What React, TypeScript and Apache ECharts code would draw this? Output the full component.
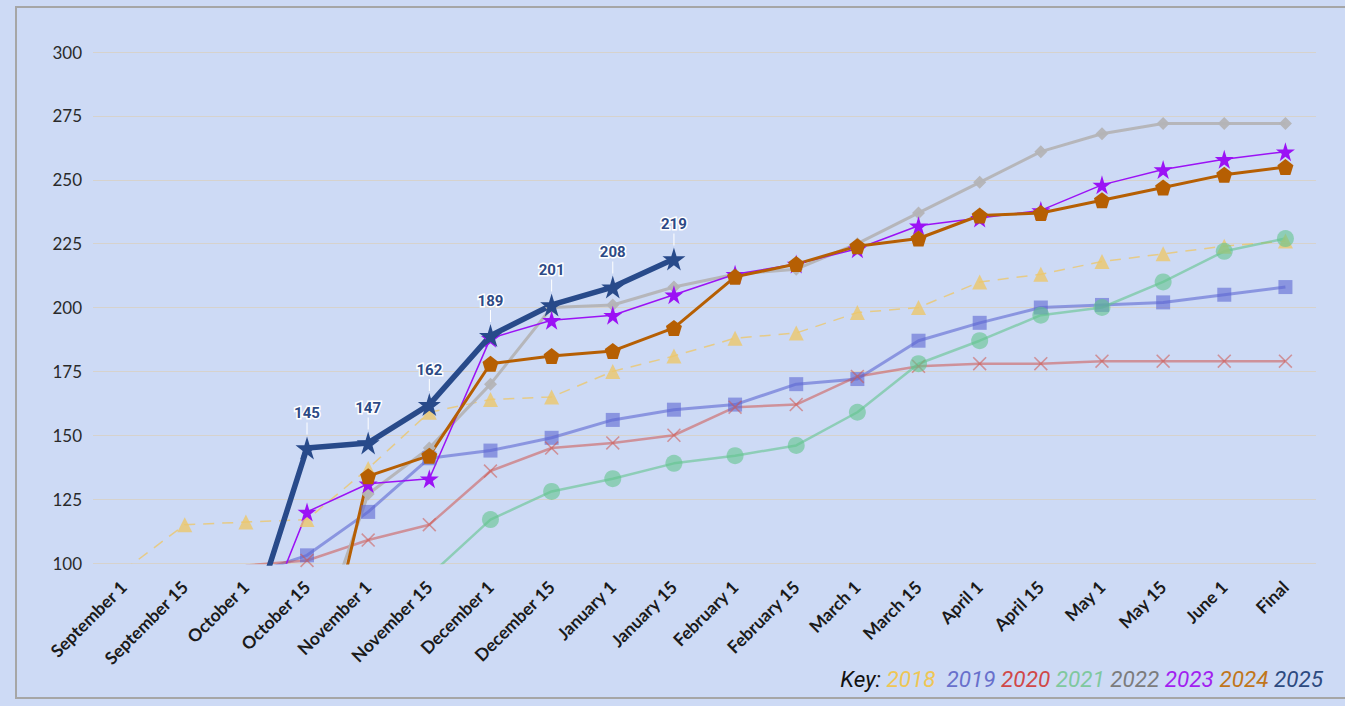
import React, { useEffect, useRef } from "react";
import * as echarts from "echarts";

const categories = [
  "September 1", "September 15", "October 1", "October 15", "November 1",
  "November 15", "December 1", "December 15", "January 1", "January 15",
  "February 1", "February 15", "March 1", "March 15", "April 1",
  "April 15", "May 1", "May 15", "June 1", "Final",
];

const y2018 = [97, 115, 116, 117, 137, 159, 164, 165, 175, 181, 188, 190, 198, 200, 210, 213, 218, 221, 224, 226];
const y2019 = [null, null, 95, 103, 120, 141, 144, 149, 156, 160, 162, 170, 172, 187, 194, 200, 201, 202, 205, 208];
const y2020 = [null, null, 99, 101, 109, 115, 136, 145, 147, 150, 161, 162, 173, 177, 178, 178, 179, 179, 179, 179];
const y2021 = [null, null, null, null, null, 95, 117, 128, 133, 139, 142, 146, 159, 178, 187, 197, 200, 210, 222, 227];
const y2022 = [null, null, null, 58, 127, 145, 170, 200, 201, 208, 213, 215, 225, 237, 249, 261, 268, 272, 272, 272];
const y2023 = [null, null, 60, 120, 131, 133, 188, 195, 197, 205, 213, 217, 223, 232, 235, 238, 248, 254, 258, 261];
const y2024 = [null, null, null, 31, 134, 142, 178, 181, 183, 192, 212, 217, 224, 227, 236, 237, 242, 247, 252, 255];
const y2025 = [null, null, 70, 145, 147, 162, 189, 201, 208, 219, null, null, null, null, null, null, null, null, null, null];

const yTicks = { min: 100, max: 300, interval: 25 };
const years = ["2018", "2019", "2020", "2021", "2022", "2023", "2024", "2025"];
const keyColors = ["#efc655", "#6870cc", "#d04848", "#7fc89e", "#7c7c7c", "#a21ff0", "#c0761c", "#2d4a80"];

const STAR = "path://M50,0 L61,35 L98,35 L68,57 L79,91 L50,70 L21,91 L32,57 L2,35 L39,35 Z";
const PENTAGON = "path://M50,0 L100,37 L81,96 L19,96 L0,37 Z";
const CROSS = "path://M0,8 L8,0 L50,42 L92,0 L100,8 L58,50 L100,92 L92,100 L50,58 L8,100 L0,92 L42,50 Z";

export default function App() {
  const ref = useRef<HTMLDivElement>(null);
  useEffect(() => {
    if (!ref.current) return;
    const chart = echarts.init(ref.current, null, { renderer: "svg" });
    const mk = (name: string, data: any[], color: string, symbol: string, size: number, width: number, opacity: number, extra: any = {}) => ({
      name,
      type: "line",
      data,
      symbol,
      symbolSize: size,
      showAllSymbol: true,
      connectNulls: false,
      clip: true,
      itemStyle: { color, opacity },
      lineStyle: { color, width, opacity },
      emphasis: { disabled: true },
      ...extra,
    });
    const richKey: any = {
      k: { color: "#111", fontStyle: "italic", fontWeight: "normal", fontSize: 22.5, fontFamily: "Roboto" },
    };
    years.forEach((y, i) => {
      richKey["c" + i] = { color: keyColors[i], fontStyle: "italic", fontWeight: "normal", fontSize: 22.5, fontFamily: "Roboto" };
    });
    const keyText = "{k|Key:} " + years.map((y, i) => `{c${i}|${y}}`).join(" ").replace("{c0|2018} ", "{c0|2018}  ");
    chart.setOption({
      animation: false,
      backgroundColor: "#cddaf5",
      title: {
        text: keyText,
        right: 17,
        top: 662,
        textStyle: { fontWeight: "normal", fontSize: 22.5, fontFamily: "Roboto", fontStyle: "italic", rich: richKey },
      },
      graphic: [
        {
          type: "rect",
          shape: { x: 16, y: 7, width: 1345, height: 691 },
          style: { fill: "none", stroke: "#a6a6a6", lineWidth: 2 },
          silent: true,
          z: -1,
        },
      ],
      grid: { left: 93, right: 29, top: 52, bottom: 143 },
      xAxis: {
        type: "category",
        data: categories,
        boundaryGap: true,
        axisLine: { show: false },
        axisTick: { show: false },
        axisLabel: {
          rotate: 45,
          interval: 0,
          margin: 21,
          fontFamily: "Lato",
          fontWeight: "bold",
          fontSize: 17.5,
          color: "#1a1a1a",
        },
      },
      yAxis: {
        type: "value",
        min: yTicks.min,
        max: yTicks.max,
        interval: yTicks.interval,
        axisLine: { show: false },
        axisTick: { show: false },
        splitLine: { lineStyle: { color: "#d6d2cc", width: 1 } },
        axisLabel: { fontFamily: "Lato", fontSize: 17, color: "#2a2a2a", margin: 11 },
      },
      series: [
        mk("2018", y2018, "#ecc76c", "triangle", 15, 1.5, 0.8, { lineStyle: { color: "#ecc76c", width: 1.5, type: [11, 8], opacity: 0.8 } }),
        mk("2019", y2019, "#5e68d2", "rect", 14, 3, 0.6),
        mk("2020", y2020, "#d0564e", CROSS, 14, 2.5, 0.55),
        mk("2021", y2021, "#62c48e", "circle", 17, 2.5, 0.6),
        mk("2022", y2022, "#b4b4b6", "diamond", 13, 3, 0.95),
        mk("2023", y2023, "#9b12f5", STAR, 19, 1.5, 1),
        mk("2024", y2024, "#b65f03", PENTAGON, 16, 3, 1),
        mk("2025", y2025, "#284a8a", STAR, 23, 5.5, 1, {
          label: {
            show: true,
            position: "top",
            distance: 2,
            formatter: (p: any) => (p.value >= 100 ? `{v|${p.value}}\n{l| }` : ""),
            rich: {
              v: {
                fontFamily: "Roboto",
                fontWeight: "bold",
                fontSize: 15,
                color: "#2d4a86",
                textBorderColor: "#ffffff",
                textBorderWidth: 3,
                lineHeight: 19,
                align: "center",
              },
              l: { width: 1, height: 12, lineHeight: 12, backgroundColor: "#ffffff", align: "center" },
            },
          },
        }),
      ],
    });
    return () => chart.dispose();
  }, []);
  return <div ref={ref} style={{ position: "fixed", left: 0, top: 0, width: 1345, height: 706 }} />;
}
